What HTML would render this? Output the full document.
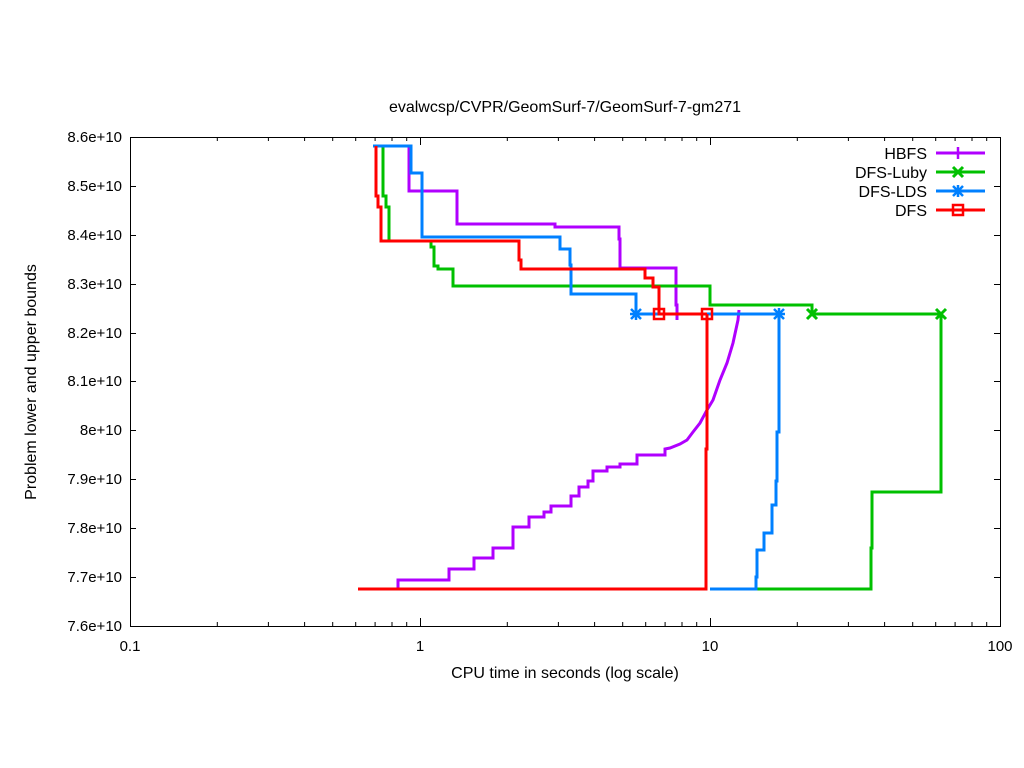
<!DOCTYPE html>
<html><head><meta charset="utf-8"><style>body{margin:0;background:#fff}svg{display:block}text{font-family:"Liberation Sans",sans-serif;font-size:16px;fill:#000}.t{font-size:15px}</style></head><body>
<svg width="1024" height="768" xmlns="http://www.w3.org/2000/svg">
<defs>
<g id="plus"><path d="M-6 0H6M0 -6V6" stroke-width="2.5"/></g>
<g id="cross"><path d="M-5 -5L5 5M-5 5L5 -5" stroke-width="3"/></g>
<g id="star"><path d="M-6 0H6M0 -6V6M-5 -5L5 5M-5 5L5 -5" stroke-width="2.5"/></g>
<g id="box"><rect x="-5" y="-5" width="10" height="10" fill="none" stroke-width="2.5"/></g>
</defs>
<text x="565" y="112" text-anchor="middle">evalwcsp/CVPR/GeomSurf-7/GeomSurf-7-gm271</text>
<g stroke="#000" stroke-width="1" fill="none">
<rect x="130.5" y="137.5" width="870" height="489"/>
<path d="M130 186.5h6M1000 186.5h-6M130 235.5h6M1000 235.5h-6M130 284.5h6M1000 284.5h-6M130 333.5h6M1000 333.5h-6M130 381.5h6M1000 381.5h-6M130 430.5h6M1000 430.5h-6M130 479.5h6M1000 479.5h-6M130 528.5h6M1000 528.5h-6M130 577.5h6M1000 577.5h-6"/>
<path d="M420.5 626v-8M420.5 137v8M710.5 626v-8M710.5 137v8"/>
<path d="M217.3 626v-4M268.4 626v-4M304.6 626v-4M332.7 626v-4M355.7 626v-4M375.1 626v-4M392 626v-4M406.7 626v-4M507.3 626v-4M558.4 626v-4M594.6 626v-4M622.7 626v-4M645.7 626v-4M665.1 626v-4M682 626v-4M696.7 626v-4M797.3 626v-4M848.4 626v-4M884.6 626v-4M912.7 626v-4M935.7 626v-4M955.1 626v-4M972 626v-4M986.7 626v-4M217.3 137v4M268.4 137v4M304.6 137v4M332.7 137v4M355.7 137v4M375.1 137v4M392 137v4M406.7 137v4M507.3 137v4M558.4 137v4M594.6 137v4M622.7 137v4M645.7 137v4M665.1 137v4M682 137v4M696.7 137v4M797.3 137v4M848.4 137v4M884.6 137v4M912.7 137v4M935.7 137v4M955.1 137v4M972 137v4M986.7 137v4"/>
</g>
<g text-anchor="end" class="t">
<text class="t" x="122" y="142">8.6e+10</text><text class="t" x="122" y="191">8.5e+10</text><text class="t" x="122" y="240">8.4e+10</text><text class="t" x="122" y="289">8.3e+10</text><text class="t" x="122" y="338">8.2e+10</text><text class="t" x="122" y="386">8.1e+10</text><text class="t" x="122" y="435">8e+10</text><text class="t" x="122" y="484">7.9e+10</text><text class="t" x="122" y="533">7.8e+10</text><text class="t" x="122" y="582">7.7e+10</text><text class="t" x="122" y="631">7.6e+10</text>
</g>
<g text-anchor="middle">
<text class="t" x="130" y="651">0.1</text><text class="t" x="420" y="651">1</text><text class="t" x="710" y="651">10</text><text class="t" x="1000" y="651">100</text>
<text x="565" y="678">CPU time in seconds (log scale)</text>
<text transform="translate(36,382) rotate(-90)">Problem lower and upper bounds</text>
</g>
<g fill="none" stroke-width="3">
<g stroke="#b000ff">
<path d="M373 146H409V191H457V224H555V227H619V239H620V268H676V305H677V320"/>
<path d="M398 589V580H449V569H474V558H493V548H513V527H529V517H544V512H551V506H571V496H579V487H588V481H593V471H607V467H620V464H637V455H665V449L670 448L680 444L687 440L693 432L700 423L707 410L713 400L720 380L727 363L733 343L738 320L739 310"/>
</g>
<g stroke="#00c000">
<path d="M383 146V196H386V207H389V241H431V247H434V266H438V269H453V286H710V305H812V314H941"/>
<path d="M756 589H871V548H872V492H941V314"/>
</g>
<g stroke="#0080ff">
<path d="M373 146H411V173H422V237H560V249H570V265H571V294H636V314H779"/>
<path d="M710 589H756V577H757V550H764V550H764V533H772V505H776V481H777V432H779V314"/>
</g>
<g stroke="#ff0000">
<path d="M376 146V196H378V207H381V241H519V260H521V269H645V278H653V287H659V314H707"/>
<path d="M358 589H706V449H707V314"/>
</g>
</g>
<g stroke="#00c000"><use href="#cross" x="812" y="314"/><use href="#cross" x="941" y="314"/></g>
<g stroke="#0080ff"><use href="#star" x="636" y="314"/><use href="#star" x="779" y="314"/></g>
<g stroke="#ff0000"><use href="#box" x="659" y="314"/><use href="#box" x="707" y="314"/></g>
<g text-anchor="end">
<text x="927" y="159">HBFS</text><text x="927" y="178">DFS-Luby</text><text x="927" y="197">DFS-LDS</text><text x="927" y="216">DFS</text>
</g>
<g stroke-width="3">
<path d="M936 153H985" stroke="#b000ff"/><use href="#plus" x="958" y="153" stroke="#b000ff"/>
<path d="M936 172H985" stroke="#00c000"/><use href="#cross" x="958" y="172" stroke="#00c000"/>
<path d="M936 191H985" stroke="#0080ff"/><use href="#star" x="958" y="191" stroke="#0080ff"/>
<path d="M936 210H985" stroke="#ff0000"/><use href="#box" x="958" y="210" stroke="#ff0000"/>
</g>
</svg>
</body></html>
